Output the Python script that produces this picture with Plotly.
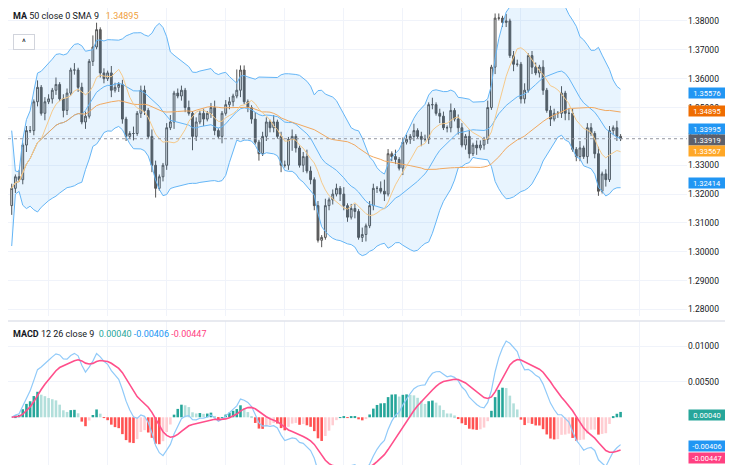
import numpy as np
import pandas as pd
import plotly.graph_objects as go
from plotly.subplots import make_subplots

closes = [1.322,1.326,1.325,1.337,1.342,1.342,1.352,1.357,1.348,1.352,1.353,1.356,1.358,1.353,1.349,1.355,1.363,1.363,1.357,1.345,
          1.347,1.366,1.371,1.377,1.362,1.360,1.362,1.356,1.357,1.358,1.346,1.340,1.341,1.341,1.348,1.356,1.349,1.340,1.330,1.322,
          1.326,1.330,1.343,1.345,1.355,1.354,1.356,1.350,1.348,1.340,1.345,1.348,1.346,1.348,1.350,1.342,1.340,1.348,1.351,1.352,
          1.354,1.356,1.363,1.352,1.350,1.346,1.338,1.334,1.340,1.345,1.343,1.345,1.340,1.330,1.330,1.339,1.340,1.336,1.330,1.333,
          1.328,1.325,1.316,1.304,1.305,1.316,1.318,1.320,1.322,1.320,1.316,1.312,
          1.315,1.314,1.305,1.306,1.309,1.316,1.322,1.322,1.321,1.320,1.334,1.333,1.332,1.329,1.338,1.339,1.340,1.342,1.340,1.339,
          1.339,1.351,1.351,1.348,1.347,1.343,1.343,1.349,1.346,1.343,1.337,1.340,1.334,1.337,1.336,1.337,1.339,1.350,1.364,1.381,
          1.381,1.3795,1.380,1.368,1.365,1.365,1.353,1.356,1.368,1.364,1.362,1.364,1.356,1.349,1.346,1.348,1.348,1.355,1.348,1.348,
          1.3355,1.333,1.336,1.333,1.343,1.341,1.334,1.321,1.327,1.325,1.342,1.343,1.340,1.33919]
first_open = 1.316
wick_up_digits = ("2131221312" "2131221312" "2153121321" "2113122132" "1123122131" "2121231122" "1922113122" "1312213112"
                  "3212131221" "3122131221" "3521312213" "1221312213" "1221312213" "1221312213" "1221312213" "1221312213" "1221312213")
wick_dn_digits = ("4212312213" "1221321221" "3121221312" "2213122134" "1221312216" "2131221312" "2131221312" "2213125213"
                  "1221312213" "2213123122" "1312213122" "1312213122" "1312213122" "1312213122" "1312213122" "3312213122" "1312213122")
price_ticks = [1.28, 1.29, 1.30, 1.31, 1.32, 1.33, 1.34, 1.35, 1.36, 1.37, 1.38]

n = len(closes)
x = list(range(n))
c = pd.Series(closes)
opens = [first_open] + closes[:-1]
wu = [int(d) * 0.0008 for d in wick_up_digits[:n]]
wd = [int(d) * 0.0008 for d in wick_dn_digits[:n]]
highs = [max(o, cl) + u for o, cl, u in zip(opens, closes, wu)]
lows = [min(o, cl) - d for o, cl, d in zip(opens, closes, wd)]

basis = c.rolling(20, min_periods=1).mean()
sd = c.rolling(20, min_periods=2).std(ddof=0).fillna(0.01)
upper = basis + 2 * sd
lower = basis - 2 * sd
ma50 = c.rolling(50, min_periods=1).mean()
sma9 = c.rolling(9, min_periods=1).mean()
macd = c.ewm(span=12, adjust=False).mean() - c.ewm(span=26, adjust=False).mean()
sig = macd.ewm(span=9, adjust=False).mean()
hist = macd - sig
hcol = []
for i, h in enumerate(hist):
    prev = hist[i - 1] if i else 0
    if h >= 0:
        hcol.append('#26a69a' if h >= prev else '#b2dfdb')
    else:
        hcol.append('#ff5252' if h <= prev else '#ffcdd2')

fig = make_subplots(rows=2, cols=1, shared_xaxes=True, vertical_spacing=0.01, row_heights=[0.67, 0.33])
blue = '#64b5f6'
fig.add_trace(go.Scatter(x=x, y=upper, line=dict(color=blue, width=1), hoverinfo='skip'), 1, 1)
fig.add_trace(go.Scatter(x=x, y=lower, line=dict(color=blue, width=1), fill='tonexty',
                         fillcolor='rgba(33,150,243,0.1)', hoverinfo='skip'), 1, 1)
fig.add_trace(go.Scatter(x=x, y=basis, line=dict(color=blue, width=1)), 1, 1)
fig.add_trace(go.Scatter(x=x, y=ma50, line=dict(color='#f0a860', width=1)), 1, 1)
fig.add_trace(go.Scatter(x=x, y=sma9, line=dict(color='#f5c98a', width=1)), 1, 1)
fig.add_trace(go.Candlestick(x=x, open=opens, high=highs, low=lows, close=closes,
                             increasing=dict(line=dict(color='#555555', width=1), fillcolor='#e8e8e8'),
                             decreasing=dict(line=dict(color='#555555', width=1), fillcolor='#5d5d5d'),
                             whiskerwidth=0), 1, 1)
fig.add_hline(y=closes[-1], line=dict(color='#9598a1', width=1, dash='dot'), row=1, col=1)
fig.add_trace(go.Bar(x=x, y=hist, marker=dict(color=hcol, line=dict(width=0)), width=0.7), 2, 1)
fig.add_trace(go.Scatter(x=x, y=macd, line=dict(color='#90caf9', width=1.2)), 2, 1)
fig.add_trace(go.Scatter(x=x, y=sig, line=dict(color='#ff4f8b', width=1.6)), 2, 1)

xr = [-1, n + 17]
fig.update_xaxes(range=xr, showticklabels=False, showgrid=True, gridcolor='#f0f3fa', dtick=16, tick0=10,
                 zeroline=False, rangeslider=dict(visible=False), showline=False)
fig.update_yaxes(side='right', showgrid=True, gridcolor='#f0f3fa', zeroline=False, ticks='',
                 tickfont=dict(size=8.5, color='#131722', family='Roboto'))
fig.update_yaxes(range=[1.2776, 1.3845], tickvals=price_ticks, tickformat='.5f', row=1, col=1)
fig.update_yaxes(range=[-0.00786, 0.01357], tickvals=[0.005, 0.01], tickformat='.5f', row=2, col=1)

fig.update_layout(width=733, height=465, margin=dict(l=0, r=54, t=0, b=0), showlegend=False,
                  plot_bgcolor='white', paper_bgcolor='white', bargap=0.2,
                  font=dict(family='Roboto', size=9, color='#131722'))
fig.add_shape(type='line', xref='paper', yref='paper', x0=0, x1=1.08, y0=0.327, y1=0.327,
              line=dict(color='#e0e3eb', width=1.5))

labels = [(1.35576, '#2196f3', 'y', 1.3550), (1.34895, '#ef6c00', 'y', 1.3489), (1.33995, '#2196f3', 'y', 1.3427),
          (1.33919, '#5d606b', 'y', 1.3389), (1.33567, '#ffa726', 'y', 1.3351), (1.32414, '#2196f3', 'y', 1.3239),
          (0.00040, '#26a69a', 'y2', 0.0003), (-0.00406, '#2196f3', 'y2', -0.0040), (-0.00447, '#ff4081', 'y2', -0.0057)]
for v, col, yr, yp in labels:
    fig.add_annotation(xref='paper', yref=yr, x=1, y=yp, xanchor='left', xshift=1, text=f'{v:.5f}',
                       showarrow=False, bgcolor=col, font=dict(color='white', size=7.5), borderpad=0,
                       height=10, width=36)

fig.add_annotation(xref='paper', yref='paper', x=0.005, y=0.997, xanchor='left', yanchor='top', showarrow=False,
                   text="<b>MA</b> 50 close 0 SMA 9  <span style='color:#f0a040'> 1.34895</span>",
                   font=dict(size=9, color='#131722'))
fig.add_annotation(xref='paper', yref='paper', x=0.008, y=0.945, xanchor='left', yanchor='top', showarrow=False,
                   text='^', bordercolor='#d1d4dc', borderwidth=1, borderpad=2, width=16, font=dict(size=9))
fig.add_annotation(xref='paper', yref='paper', x=0.005, y=0.315, xanchor='left', yanchor='top', showarrow=False,
                   text="<b>MACD</b> 12 26 close 9  <span style='color:#26a69a'>0.00040</span> "
                        "<span style='color:#2196f3'>-0.00406</span> <span style='color:#ff4081'>-0.00447</span>",
                   font=dict(size=9, color='#131722'))
fig.write_html('out.html')
